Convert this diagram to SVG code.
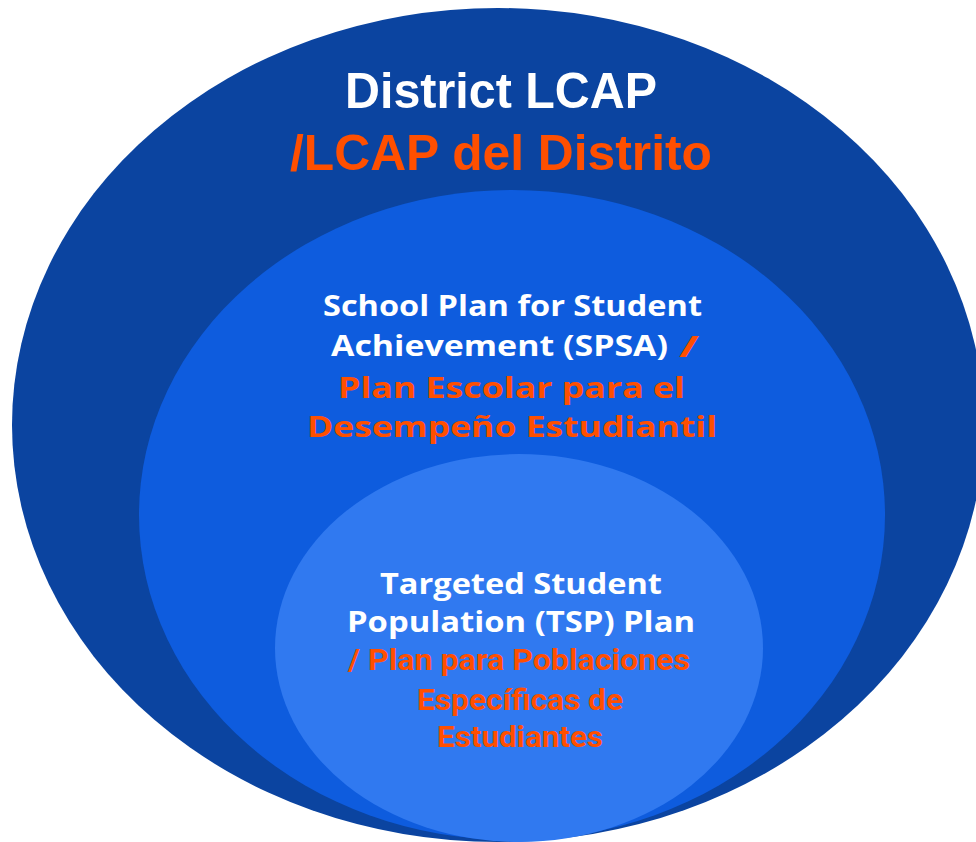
<svg xmlns="http://www.w3.org/2000/svg" width="976" height="842" viewBox="0 0 976 842">
<style>
.w{fill:#ffffff;font-family:"Open Sans","Liberation Sans",sans-serif;font-weight:700}
.o{fill:#ff4f00;font-family:"Open Sans","Liberation Sans",sans-serif;font-weight:700}
.r{fill:#ff4f00;font-family:Roboto,"Liberation Sans",sans-serif;font-weight:700}
.c{font-family:"Liberation Sans",Arial,sans-serif;font-weight:700}
</style>
<rect width="976" height="842" fill="#ffffff"/>
<g id="district">
<ellipse cx="498" cy="425" rx="486" ry="417" fill="#0b44a0"/>
<text class="c" x="345" y="108" font-size="50" fill="#ffffff" textLength="312" lengthAdjust="spacingAndGlyphs">District LCAP</text>
<text class="c" x="290" y="170" font-size="50" fill="#ff4f00" textLength="422" lengthAdjust="spacingAndGlyphs">/LCAP del Distrito</text>
</g>
<g id="spsa">
<ellipse cx="512" cy="515" rx="373" ry="325" fill="#0e5cde"/>
<text class="w" x="323" y="316" font-size="28" textLength="379" lengthAdjust="spacingAndGlyphs">School Plan for Student</text>
<text class="w" x="331" y="356" font-size="28" textLength="337" lengthAdjust="spacingAndGlyphs">Achievement (SPSA)</text>
<text class="o" x="679" y="357" font-size="29" textLength="20" lengthAdjust="spacingAndGlyphs">/</text>
<text class="o" x="338" y="398" font-size="29" textLength="347" lengthAdjust="spacingAndGlyphs">Plan Escolar para el</text>
<text class="o" x="307" y="437" font-size="29" textLength="410" lengthAdjust="spacingAndGlyphs">Desempeño Estudiantil</text>
</g>
<g id="tsp">
<ellipse cx="519" cy="648" rx="244" ry="194" fill="#3079f0"/>
<text class="w" x="380" y="594" font-size="28" textLength="282" lengthAdjust="spacingAndGlyphs">Targeted Student</text>
<text class="w" x="347" y="632" font-size="28" textLength="348" lengthAdjust="spacingAndGlyphs">Population (TSP) Plan</text>
<text class="r" x="348" y="670" font-size="29" textLength="342" lengthAdjust="spacingAndGlyphs">/ Plan para Poblaciones</text>
<text class="r" x="417" y="710" font-size="29" textLength="206" lengthAdjust="spacingAndGlyphs">Específicas de</text>
<text class="r" x="437" y="747" font-size="29" textLength="166" lengthAdjust="spacingAndGlyphs">Estudiantes</text>
</g>
<g id="connectors"/>
</svg>
